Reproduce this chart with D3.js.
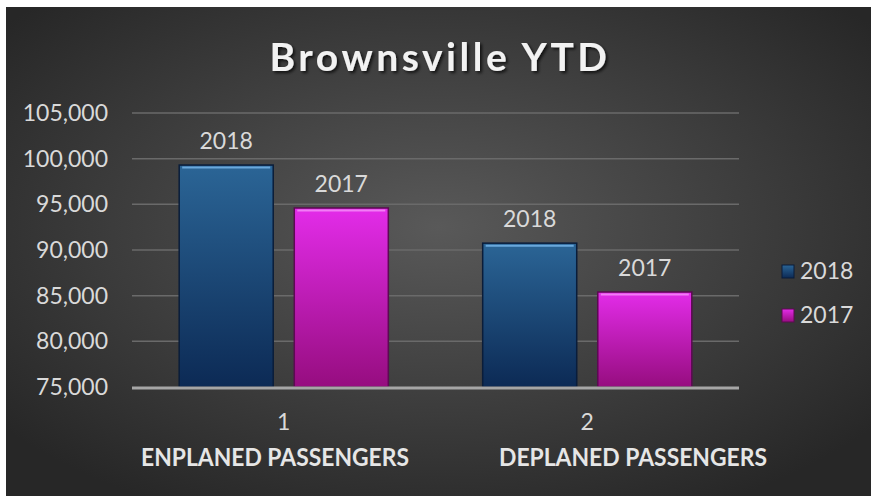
<!DOCTYPE html>
<html lang="en">
<head>
<meta charset="UTF-8">
<style>
  body { margin: 0; background: #fff; }
  svg { display: block; }
  text { font-family: "Lato", "Open Sans", sans-serif; }
</style>
</head>
<body>
<div id="chart"></div>
<script src="https://cdn.jsdelivr.net/npm/d3@7"></script>
<script>
  // chart values
  var categories = ["1", "2"];
  var categoryNames = ["ENPLANED PASSENGERS", "DEPLANED PASSENGERS"];
  var seriesNames = ["2018", "2017"];
  var values2018 = [99300, 90750];
  var values2017 = [94600, 85400];
  var yTicks = [75000, 80000, 85000, 90000, 95000, 100000, 105000];

  var W = 871, H = 496;
  var margin = { top: 113, right: 132, bottom: 109, left: 132 };

  var svg = d3.select("#chart").append("svg")
    .attr("width", W).attr("height", H);

  var defs = svg.append("defs");

  var bg = defs.append("radialGradient").attr("id", "bg")
    .attr("cx", "50%").attr("cy", "45%").attr("r", "65%");
  bg.append("stop").attr("offset", "0%").attr("stop-color", "#595959");
  bg.append("stop").attr("offset", "100%").attr("stop-color", "#272727");

  var fills = {
    "2018": ["#2b6596", "#0c2a55"],
    "2017": ["#e32ce9", "#960d7f"]
  };
  var edges = { "2018": "#0a1d3a", "2017": "#5c0a52" };
  var tops = { "2018": "#6aa8dc", "2017": "#f27df5" };
  seriesNames.forEach(function (s) {
    var g = defs.append("linearGradient").attr("id", "g" + s)
      .attr("x1", 0).attr("y1", 0).attr("x2", 0).attr("y2", 1);
    g.append("stop").attr("offset", "0%").attr("stop-color", fills[s][0]);
    g.append("stop").attr("offset", "100%").attr("stop-color", fills[s][1]);
  });

  var shadow = defs.append("filter").attr("id", "tshadow")
    .attr("x", "-10%").attr("y", "-20%").attr("width", "120%").attr("height", "150%");
  shadow.append("feDropShadow").attr("dx", 2).attr("dy", 2)
    .attr("stdDeviation", 1.5).attr("flood-color", "#000").attr("flood-opacity", 0.7);

  svg.append("rect").attr("x", 6).attr("y", 7)
    .attr("width", W - 6).attr("height", H - 7)
    .attr("fill", "url(#bg)");

  var x0 = d3.scaleBand().domain(categories)
    .range([margin.left, W - margin.right]);
  var x1 = d3.scaleBand().domain(seriesNames)
    .range([0, x0.bandwidth()]).paddingInner(0.183).paddingOuter(0.41);
  var y = d3.scaleLinear().domain([75000, 105000])
    .range([H - margin.bottom, margin.top]);

  // gridlines
  svg.append("g")
    .selectAll("line").data(yTicks.slice(1)).enter().append("line")
    .attr("x1", margin.left).attr("x2", W - margin.right)
    .attr("y1", function (d) { return y(d); })
    .attr("y2", function (d) { return y(d); })
    .attr("stroke", "#6a6a6a").attr("stroke-width", 1.5);

  // y labels
  svg.append("g")
    .selectAll("text").data(yTicks).enter().append("text")
    .attr("x", 108).attr("y", function (d) { return y(d) + 8; })
    .attr("text-anchor", "end")
    .attr("fill", "#d9d9d9").style("font-size", "23px")
    .text(function (d) { return d3.format(",")(d); });

  var rows = categories.map(function (c, i) {
    return [
      { cat: c, s: "2018", v: values2018[i] },
      { cat: c, s: "2017", v: values2017[i] }
    ];
  });

  var groups = svg.append("g").selectAll("g").data(rows).enter().append("g")
    .attr("transform", function (d) { return "translate(" + x0(d[0].cat) + ",0)"; });

  var bars = groups.selectAll("g").data(function (d) { return d; }).enter().append("g");

  bars.append("rect")
    .attr("x", function (d) { return x1(d.s); })
    .attr("y", function (d) { return y(d.v); })
    .attr("width", x1.bandwidth())
    .attr("height", function (d) { return y(75000) - y(d.v); })
    .attr("fill", function (d) { return "url(#g" + d.s + ")"; })
    .attr("stroke", function (d) { return edges[d.s]; })
    .attr("stroke-width", 1.5);

  bars.append("line")
    .attr("x1", function (d) { return x1(d.s) + 3; })
    .attr("x2", function (d) { return x1(d.s) + x1.bandwidth() - 3; })
    .attr("y1", function (d) { return y(d.v) + 2.5; })
    .attr("y2", function (d) { return y(d.v) + 2.5; })
    .attr("stroke", function (d) { return tops[d.s]; })
    .attr("stroke-width", 2);

  bars.append("text")
    .attr("x", function (d) { return x1(d.s) + x1.bandwidth() / 2; })
    .attr("y", function (d) { return y(d.v) - 16; })
    .attr("text-anchor", "middle")
    .attr("fill", "#d9d9d9").style("font-size", "23px")
    .text(function (d) { return d.s; });

  // baseline
  svg.append("line")
    .attr("x1", margin.left).attr("x2", W - margin.right)
    .attr("y1", y(75000) + 1).attr("y2", y(75000) + 1)
    .attr("stroke", "#a6a6a6").attr("stroke-width", 3);

  // category ticks
  svg.append("g").selectAll("text").data(categories).enter().append("text")
    .attr("x", function (d) { return x0(d) + x0.bandwidth() / 2; })
    .attr("y", 430)
    .attr("text-anchor", "middle")
    .attr("fill", "#d9d9d9").style("font-size", "23px")
    .text(function (d) { return d; });

  var nameX = [275, 633];
  svg.append("g").selectAll("text").data(categoryNames).enter().append("text")
    .attr("x", function (d, i) { return nameX[i]; })
    .attr("y", 466)
    .attr("text-anchor", "middle")
    .attr("fill", "#e6e6e6")
    .style("font-size", "24px").style("font-weight", "bold")
    .attr("textLength", 268).attr("lengthAdjust", "spacingAndGlyphs")
    .text(function (d) { return d; });

  // title
  svg.append("text")
    .attr("x", 440).attr("y", 71)
    .attr("text-anchor", "middle")
    .attr("fill", "#f2f2f2")
    .style("font-size", "39px").style("font-weight", "bold")
    .style("letter-spacing", "3.5px")
    .attr("filter", "url(#tshadow)")
    .text("Brownsville YTD");

  // legend
  var legend = svg.append("g").selectAll("g").data(seriesNames).enter().append("g")
    .attr("transform", function (d, i) { return "translate(782," + (265 + i * 44) + ")"; });
  legend.append("rect")
    .attr("width", 12).attr("height", 13)
    .attr("fill", function (d) { return "url(#g" + d + ")"; })
    .attr("stroke", function (d) { return edges[d]; });
  legend.append("text")
    .attr("x", 18).attr("y", 14)
    .attr("fill", "#d9d9d9").style("font-size", "23px")
    .text(function (d) { return d; });
</script>
</body>
</html>
